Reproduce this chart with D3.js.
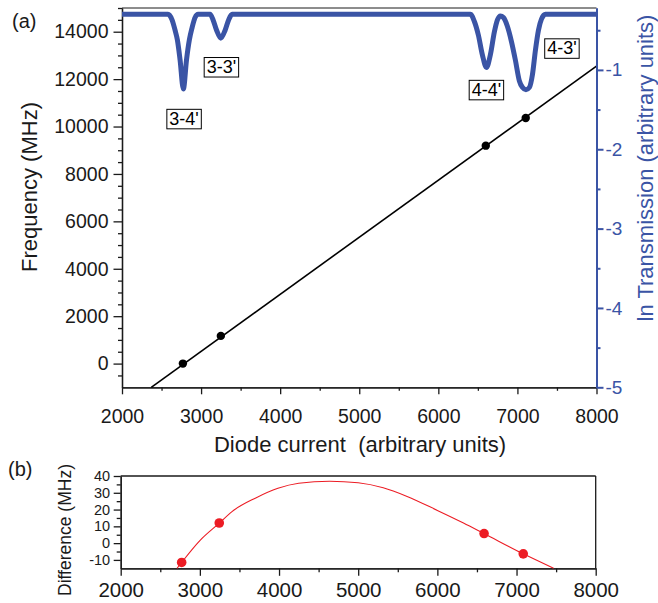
<!DOCTYPE html>
<html>
<head>
<meta charset="utf-8">
<script src="https://cdn.jsdelivr.net/npm/d3@7"></script>
<style>
  html, body { margin: 0; padding: 0; background: #fff; }
  svg { display: block; font-family: "Liberation Sans", Arial, sans-serif; }
</style>
</head>
<body>
<svg id="chart" width="658" height="603"></svg>
<script>
// ---------- DATA ----------
// Calibration points (a): diode current vs frequency
const pointCurrent = [2770, 3250, 6600, 7105];
const pointFreq = [0, 1168, 9193, 10360];
// Linear fit line (a) endpoints
const fitCurrent = [2370, 8000];
const fitFreq = [-1000, 12550];
// Transmission spectrum (a), right axis: [diode current, ln transmission]
const transCurrent = [2000, 2582, 2633, 2671, 2700, 2734, 2776, 2816, 2852, 2886, 2924, 2962,
  3114, 3152, 3196, 3249, 3304, 3348, 3392,
  6405, 6456, 6506, 6557, 6608, 6658, 6709, 6747, 6785, 6823, 6873, 6924, 6975, 7025, 7063, 7108, 7152, 7190, 7228, 7266, 7304, 7354, 8000];
const transValue = [-0.30, -0.30, -0.37, -0.50, -0.62, -0.87, -1.24, -0.87, -0.62, -0.47, -0.34, -0.30,
  -0.30, -0.37, -0.50, -0.60, -0.50, -0.37, -0.30,
  -0.30, -0.39, -0.56, -0.81, -0.97, -0.81, -0.52, -0.37, -0.32, -0.34, -0.45, -0.64, -0.88, -1.14, -1.22, -1.25, -1.22, -1.06, -0.75, -0.50, -0.36, -0.30, -0.30];
// Transition labels
const transLabels = ["3-4'", "3-3'", "4-4'", "4-3'"];
const labelCurrent = [2785, 3257, 6608, 7563];
const labelFreq = [10338, 12523, 11561, 13312];
// Axis ticks (a)
const xTicks = [2000, 3000, 4000, 5000, 6000, 7000, 8000];
const xMinor = [2500, 3500, 4500, 5500, 6500, 7500];
const freqTicks = [0, 2000, 4000, 6000, 8000, 10000, 12000, 14000];
const freqMinor = [-500, 500, 1000, 1500, 2500, 3000, 3500, 4500, 5000, 5500, 6500, 7000, 7500, 8500, 9000, 9500, 10500, 11000, 11500, 12500, 13000, 13500, 14500, 15000];
const transTicks = [-5, -4, -3, -2, -1];
const transMinor = [-4.5, -3.5, -2.5, -1.5, -0.5];
// Difference (b)
const diffPointCurrent = [2770, 3245, 6590, 7085];
const diffPointValue = [-11.5, 12, 5.7, -6.4];
const diffCurveCurrent = [2712, 2770, 3000, 3245, 3406, 3700, 3986, 4248, 4640, 5000, 5316, 5610, 6000, 6330, 6590, 7085, 7468];
const diffCurveValue = [-15, -11.5, 1.5, 11.9, 18.8, 26.8, 32.7, 35.7, 36.9, 36.0, 33.0, 28.0, 19.5, 12.0, 5.7, -6.4, -15];
const diffTicks = [-10, 0, 10, 20, 30, 40];
const diffMinor = [-5, 5, 15, 25, 35];

// ---------- STYLE ----------
const BLUE = "#3a54a5";
const RED = "#ec1c24";
const INK = "#1a1a1a";

const svg = d3.select("#chart");

// ---------- PANEL (a) ----------
const A = { left: 122, right: 596.5, top: 8, bottom: 387.3 };
const x = d3.scaleLinear().domain([2000, 8000]).range([A.left, A.right]);
const yF = d3.scaleLinear().domain([-1000, 15000]).range([A.bottom, A.top]);
const yT = d3.scaleLinear().domain([-5, -0.22]).range([A.bottom, A.top]);

// top border
svg.append("line").attr("x1", A.left).attr("x2", A.right).attr("y1", A.top).attr("y2", A.top)
  .attr("stroke", INK).attr("stroke-width", 1);

function styleAxis(g, color, fs, width) {
  g.select(".domain").attr("stroke", color).attr("stroke-width", width);
  g.selectAll(".tick line").attr("stroke", color).attr("stroke-width", width);
  g.selectAll(".tick text").attr("fill", color).style("font-size", fs + "px")
    .style("font-family", "'Liberation Sans', Arial, sans-serif");
}

// bottom axis (a)
let g = svg.append("g").attr("transform", `translate(0,${A.bottom})`)
  .call(d3.axisBottom(x).tickValues(xMinor).tickSize(3.5).tickFormat("").tickSizeOuter(0));
styleAxis(g, INK, 19.5, 1.3);
g = svg.append("g").attr("transform", `translate(0,${A.bottom})`)
  .call(d3.axisBottom(x).tickValues(xTicks).tickSize(7).tickPadding(15).tickFormat(d3.format("d")).tickSizeOuter(0));
styleAxis(g, INK, 19.5, 1.3);

// left axis (a)
g = svg.append("g").attr("transform", `translate(${A.left},0)`)
  .call(d3.axisLeft(yF).tickValues(freqMinor).tickSize(4).tickFormat("").tickSizeOuter(0));
styleAxis(g, INK, 19.5, 1.3);
g = svg.append("g").attr("transform", `translate(${A.left},0)`)
  .call(d3.axisLeft(yF).tickValues(freqTicks).tickSize(8.5).tickPadding(5).tickFormat(d3.format("d")).tickSizeOuter(0));
styleAxis(g, INK, 19.5, 1.3);

// fit line
const lineF = d3.line().x(d => x(d[0])).y(d => yF(d[1]));
svg.append("path").datum(d3.zip(fitCurrent, fitFreq)).attr("d", lineF)
  .attr("fill", "none").attr("stroke", "#000").attr("stroke-width", 1.6);

// calibration points
svg.append("g").selectAll("circle").data(d3.zip(pointCurrent, pointFreq)).join("circle")
  .attr("cx", d => x(d[0])).attr("cy", d => yF(d[1])).attr("r", 4.2).attr("fill", "#000");

// transmission curve
const lineT = d3.line().x(d => x(d[0])).y(d => yT(d[1])).curve(d3.curveMonotoneX);
svg.append("path").datum(d3.zip(transCurrent, transValue)).attr("d", lineT)
  .attr("fill", "none").attr("stroke", BLUE).attr("stroke-width", 5).attr("stroke-linejoin", "round");

// right axis (a)
g = svg.append("g").attr("transform", `translate(${A.right},0)`)
  .call(d3.axisRight(yT).tickValues(transMinor).tickSize(4).tickFormat("").tickSizeOuter(0));
styleAxis(g, BLUE, 19, 2);
g = svg.append("g").attr("transform", `translate(${A.right},0)`)
  .call(d3.axisRight(yT).tickValues(transTicks).tickSize(7).tickPadding(2).tickFormat(d3.format("d")).tickSizeOuter(0));
styleAxis(g, BLUE, 19, 2);
g.selectAll(".tick text").text(d => "-" + Math.abs(d));

// transition labels with boxes
const lab = svg.append("g");
d3.zip(transLabels, labelCurrent, labelFreq).forEach(([t, cx, cy]) => {
  const tg = lab.append("g");
  const txt = tg.append("text").attr("x", x(cx)).attr("y", yF(cy)).attr("dy", "0.35em")
    .attr("text-anchor", "middle").style("font-size", "18px").attr("fill", "#000").text(t);
  const bb = txt.node().getBBox();
  tg.insert("rect", "text").attr("x", bb.x - 2.5).attr("y", bb.y + 0.5).attr("width", bb.width + 5)
    .attr("height", bb.height - 0.5).attr("fill", "#fff").attr("stroke", "#000").attr("stroke-width", 1);
});

// titles (a)
svg.append("text").attr("x", 12).attr("y", 28).style("font-size", "20px").attr("fill", INK).text("(a)");
svg.append("text").attr("transform", "translate(37,187) rotate(-90)").attr("text-anchor", "middle")
  .style("font-size", "22px").attr("fill", INK).text("Frequency (MHz)");
svg.append("text").attr("x", 360).attr("y", 451.5).attr("text-anchor", "middle")
  .style("font-size", "22px").attr("fill", INK).attr("xml:space", "preserve").text("Diode current  (arbitrary units)");
svg.append("text").attr("transform", "translate(653,168) rotate(-90)").attr("text-anchor", "middle")
  .style("font-size", "22px").attr("fill", BLUE).text("ln Transmission (arbitrary units)");

// ---------- PANEL (b) ----------
const B = { left: 120.7, right: 595.7, top: 476, bottom: 568.3 };
const xb = d3.scaleLinear().domain([2000, 8000]).range([B.left, B.right]);
const yb = d3.scaleLinear().domain([-15, 40]).range([B.bottom, B.top]);

svg.append("line").attr("x1", B.left).attr("x2", B.right).attr("y1", B.top).attr("y2", B.top)
  .attr("stroke", INK).attr("stroke-width", 1.3);
svg.append("line").attr("x1", B.right).attr("x2", B.right).attr("y1", B.top).attr("y2", B.bottom)
  .attr("stroke", INK).attr("stroke-width", 1.3);

g = svg.append("g").attr("transform", `translate(0,${B.bottom})`)
  .call(d3.axisBottom(xb).tickValues(xMinor).tickSize(4).tickFormat("").tickSizeOuter(0));
styleAxis(g, INK, 20, 1.3);
g = svg.append("g").attr("transform", `translate(0,${B.bottom})`)
  .call(d3.axisBottom(xb).tickValues(xTicks).tickSize(7.5).tickPadding(6.5).tickFormat(d3.format("d")).tickSizeOuter(0));
styleAxis(g, INK, 20.5, 1.3);

g = svg.append("g").attr("transform", `translate(${B.left},0)`)
  .call(d3.axisLeft(yb).tickValues(diffMinor).tickSize(4).tickFormat("").tickSizeOuter(0));
styleAxis(g, INK, 14, 1.3);
g = svg.append("g").attr("transform", `translate(${B.left},0)`)
  .call(d3.axisLeft(yb).tickValues(diffTicks).tickSize(7).tickPadding(3.5).tickFormat(d3.format("d")).tickSizeOuter(0));
styleAxis(g, INK, 14.5, 1.3);
g.selectAll(".tick text").text(d => d < 0 ? "-" + Math.abs(d) : d);

const lineB = d3.line().x(d => xb(d[0])).y(d => yb(d[1])).curve(d3.curveMonotoneX);
svg.append("path").datum(d3.zip(diffCurveCurrent, diffCurveValue)).attr("d", lineB)
  .attr("fill", "none").attr("stroke", RED).attr("stroke-width", 1.1);
svg.append("g").selectAll("circle").data(d3.zip(diffPointCurrent, diffPointValue)).join("circle")
  .attr("cx", d => xb(d[0])).attr("cy", d => yb(d[1])).attr("r", 4.8).attr("fill", RED);

svg.append("text").attr("x", 8).attr("y", 476).style("font-size", "20px").attr("fill", INK).text("(b)");
svg.append("text").attr("transform", "translate(71,530) rotate(-90)").attr("text-anchor", "middle")
  .style("font-size", "17.5px").attr("fill", INK).text("Difference (MHz)");
</script>
</body>
</html>
